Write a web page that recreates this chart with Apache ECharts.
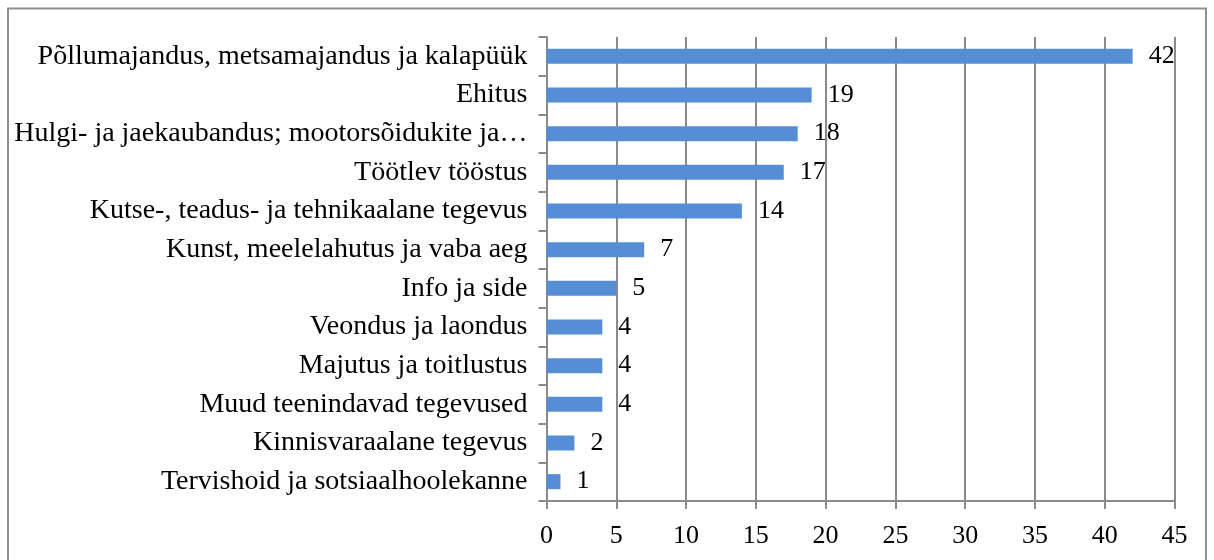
<!DOCTYPE html>
<html>
<head>
<meta charset="utf-8">
<script src="https://cdn.jsdelivr.net/npm/echarts@6/dist/echarts.min.js"></script>
<style>
  html, body { margin: 0; padding: 0; background: #fff; }
  #chart { width: 1214px; height: 560px; }
</style>
</head>
<body>
<div id="chart"></div>
<script>
// categories top to bottom
const categories = [
  'Põllumajandus, metsamajandus ja kalapüük',
  'Ehitus',
  'Hulgi- ja jaekaubandus; mootorsõidukite ja mootorrataste remont',
  'Töötlev tööstus',
  'Kutse-, teadus- ja tehnikaalane tegevus',
  'Kunst, meelelahutus ja vaba aeg',
  'Info ja side',
  'Veondus ja laondus',
  'Majutus ja toitlustus',
  'Muud teenindavad tegevused',
  'Kinnisvaraalane tegevus',
  'Tervishoid ja sotsiaalhoolekanne'
];
const values = [42, 19, 18, 17, 14, 7, 5, 4, 4, 4, 2, 1];

const font = '"Liberation Serif", "DejaVu Serif", serif';
const axisGray = '#8a8a8a';

const chart = echarts.init(document.getElementById('chart'));
chart.setOption({
  animation: false,
  textStyle: { fontFamily: font },
  graphic: [{
    type: 'rect',
    shape: { x: 8, y: 8.5, width: 1198, height: 560 },
    style: { fill: 'none', stroke: '#8f8f8f', lineWidth: 2 }
  }],
  grid: { left: 546.5, right: 39.5, top: 37, bottom: 59, containLabel: false },
  xAxis: {
    type: 'value',
    min: 0,
    max: 45,
    interval: 5,
    axisLine: { show: true, lineStyle: { color: axisGray, width: 2 } },
    axisTick: { show: true, length: 8, lineStyle: { color: axisGray, width: 2 } },
    splitLine: { show: true, lineStyle: { color: axisGray, width: 2 } },
    axisLabel: { color: '#000', fontSize: 26, fontFamily: font, margin: 22 }
  },
  yAxis: {
    type: 'category',
    data: categories,
    inverse: true,
    axisLine: { show: true, lineStyle: { color: axisGray, width: 2 } },
    axisTick: { show: true, length: 8, lineStyle: { color: axisGray, width: 2 } },
    axisLabel: {
      color: '#000',
      fontSize: 28,
      fontFamily: font,
      margin: 19,
      width: 516,
      overflow: 'truncate',
      ellipsis: '…'
    }
  },
  series: [{
    type: 'bar',
    data: values,
    barWidth: 15,
    itemStyle: { color: '#558ED5' },
    label: {
      show: true,
      position: 'right',
      distance: 16,
      color: '#000',
      fontSize: 26,
      fontFamily: font
    }
  }]
});
</script>
</body>
</html>
